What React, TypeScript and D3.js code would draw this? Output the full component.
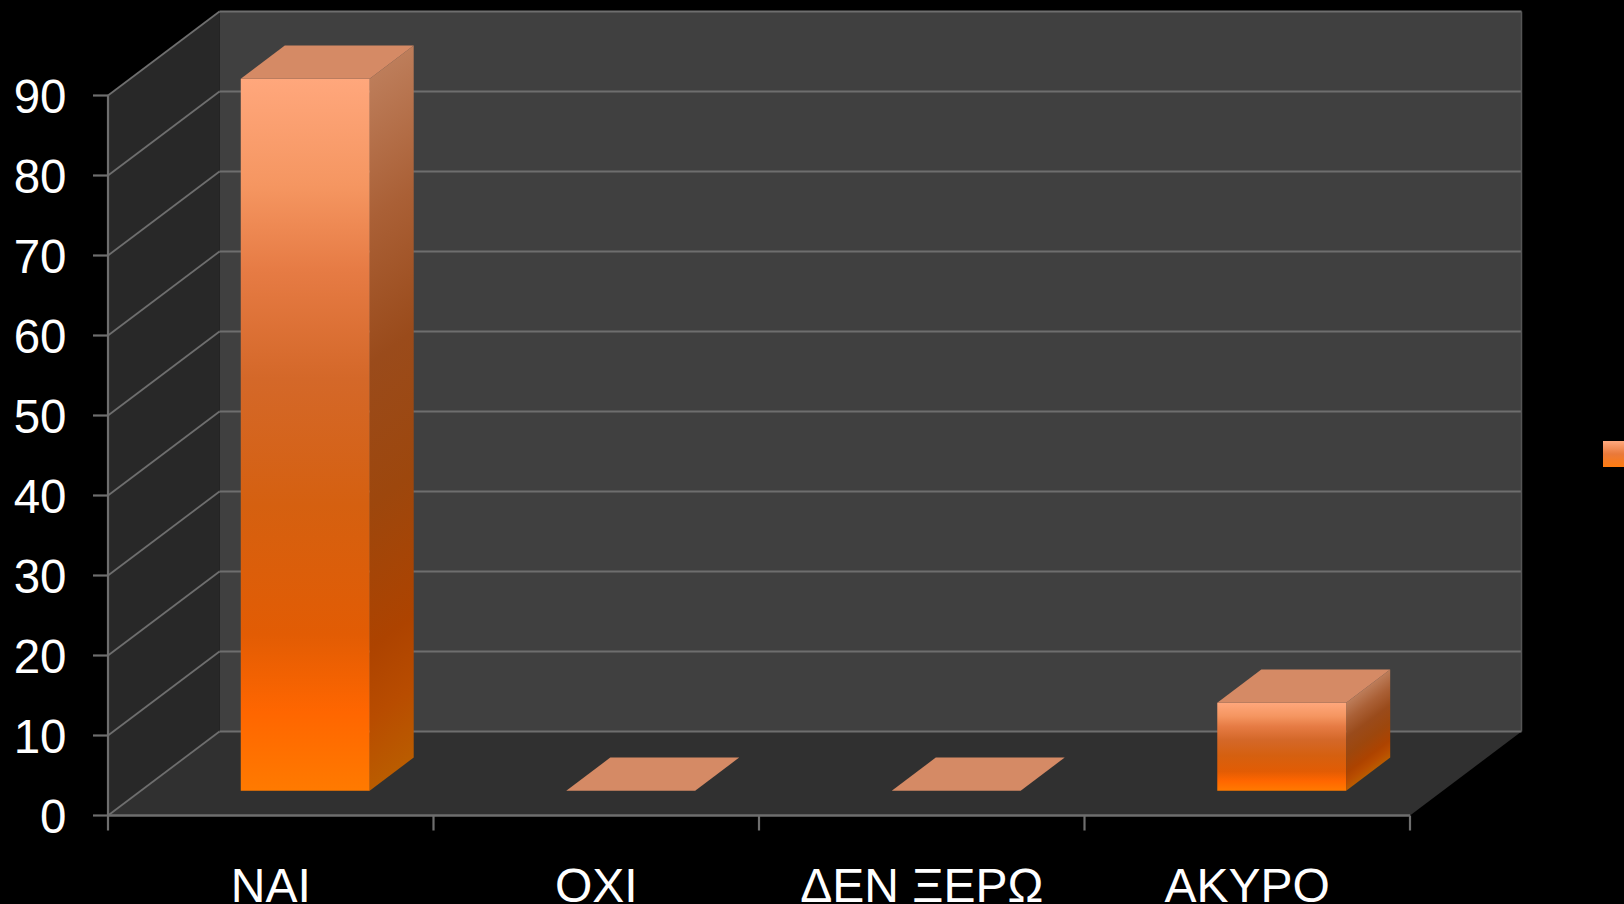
import React from "react";
import * as d3 from "d3";

const categories = ["NAI", "OXI", "ΔΕΝ ΞΕΡΩ", "ΑΚΥΡΟ"];
const values = [89, 0, 0, 11];
const yTicks = [0, 10, 20, 30, 40, 50, 60, 70, 80, 90];

const W = 1624, H = 904;
const x0 = 108, x1 = 1410, yBottom = 815.5, yTop = 95.5;
const depthX = 111.5, depthY = 84;
const barD0 = 0.295, barD1 = 0.69;
const GRID = "#6e6e6e";

const xOuter = d3.scaleLinear().domain([0, categories.length]).range([x0, x1]);
const band = d3.scaleBand<string>().domain(categories).range([x0, x1]).paddingInner(0.604).paddingOuter(0.302).align(0.508);
const y = d3.scaleLinear().domain([0, 90]).range([yBottom, yTop]);

const P = (px: number, v: number, d: number): [number, number] => [px + d * depthX, y(v) - d * depthY];
const poly = (pts: [number, number][]) => (d3.line()(pts) as string) + "Z";

const frontStops: [number, string][] = [
  [0, "#ffa77c"], [0.15, "#f59661"], [0.27, "#e67b44"], [0.42, "#d46829"], [0.6, "#d56010"], [0.78, "#e25c04"], [0.89, "#ff6600"], [1, "#ff7a00"],
];
const sideStops: [number, string][] = [
  [0, "#bd7d5a"], [0.2, "#aa6036"], [0.4, "#9a4b1b"], [0.6, "#9d470d"], [0.8, "#ad4300"], [0.9, "#b84c00"], [1, "#ba5c00"],
];

export default function App() {
  const floor = poly([P(x0, 0, 0), P(x1, 0, 0), P(x1, 0, 1), P(x0, 0, 1)]);
  const side = poly([P(x0, 0, 0), P(x0, 90, 0), P(x0, 90, 1), P(x0, 0, 1)]);
  const back = poly([P(x0, 0, 1), P(x1, 0, 1), P(x1, 90, 1), P(x0, 90, 1)]);
  const seg = (a: [number, number], b: [number, number]) => d3.line()([a, b]) as string;

  return (
    <svg width={W} height={H} viewBox={`0 0 ${W} ${H}`} style={{ position: "fixed", left: 0, top: 0, background: "#000", display: "block" }}>
      <defs>
        <linearGradient id="front" x1="0" y1="0" x2="0" y2="1">
          {frontStops.map(([o, c]) => <stop key={o} offset={o} stopColor={c} />)}
        </linearGradient>
        {categories.map((c, i) => {
          const xb = band(c)! + band.bandwidth();
          const s = P(xb, values[i], barD0);
          const h = y(0) - y(values[i]);
          return (
            <linearGradient key={c} id={`side${i}`} gradientUnits="userSpaceOnUse"
              x1={s[0]} y1={s[1]} x2={s[0] + 0.6 * 0.8 * h} y2={s[1] + 0.8 * 0.8 * h}>
              {sideStops.map(([o, col]) => <stop key={o} offset={o} stopColor={col} />)}
            </linearGradient>
          );
        })}
        <linearGradient id="legendG" x1="0" y1="0" x2="0" y2="1">
          <stop offset="0" stopColor="#ffa97f" />
          <stop offset="0.5" stopColor="#e9793a" />
          <stop offset="1" stopColor="#ff7c10" />
        </linearGradient>
      </defs>

      <path d={back} fill="#404040" />
      <path d={side} fill="#282828" />
      <path d={floor} fill="#303030" />

      {yTicks.map(t => (
        <g key={t}>
          <path d={seg(P(x0, t, 1), P(x1, t, 1))} stroke={GRID} strokeWidth={2.2} fill="none" />
          <path d={seg(P(x0, t, 0), P(x0, t, 1))} stroke={GRID} strokeWidth={1.8} fill="none" />
          <path d={seg([x0 - 15, y(t)], [x0, y(t)])} stroke={GRID} strokeWidth={2.2} fill="none" />
          <text x={66.5} y={y(t)} dy="0.375em" textAnchor="end" fill="#fff" fontFamily="'Liberation Sans', Arial, sans-serif" fontSize={47.5}>{t}</text>
        </g>
      ))}
      <path d={seg(P(x1, 0, 1), P(x1, 90, 1))} stroke="#555" strokeWidth={1.5} fill="none" />
      <path d={seg([x0, yTop], [x0, yBottom])} stroke={GRID} strokeWidth={2.2} fill="none" />
      <path d={seg([x0, yBottom], [x1, yBottom])} stroke={GRID} strokeWidth={2.6} fill="none" />
      {d3.range(categories.length + 1).map(i => (
        <path key={i} d={seg([xOuter(i), yBottom], [xOuter(i), yBottom + 15])} stroke={GRID} strokeWidth={2.2} fill="none" />
      ))}

      {categories.map((c, i) => {
        const xa = band(c)!, xb = xa + band.bandwidth(), v = values[i];
        const a0 = P(xa, 0, barD0), b0 = P(xb, 0, barD0), b1 = P(xb, 0, barD1);
        const aT0 = P(xa, v, barD0), bT0 = P(xb, v, barD0), bT1 = P(xb, v, barD1), aT1 = P(xa, v, barD1);
        return (
          <g key={c} strokeLinejoin="round">
            {v > 0 && <path d={poly([b0, b1, bT1, bT0])} fill={`url(#side${i})`} />}
            {v > 0 && <path d={poly([a0, b0, bT0, aT0])} fill="url(#front)" />}
            <path d={poly([aT0, bT0, bT1, aT1])} fill="#d58a65" />
            <text x={xOuter(i + 0.5)} y={901.5} textAnchor="middle" fill="#fff" fontFamily="'Liberation Sans', Arial, sans-serif" fontSize={48}>{c}</text>
          </g>
        );
      })}

      <rect x={1603} y={441} width={26} height={26} fill="url(#legendG)" />
    </svg>
  );
}
